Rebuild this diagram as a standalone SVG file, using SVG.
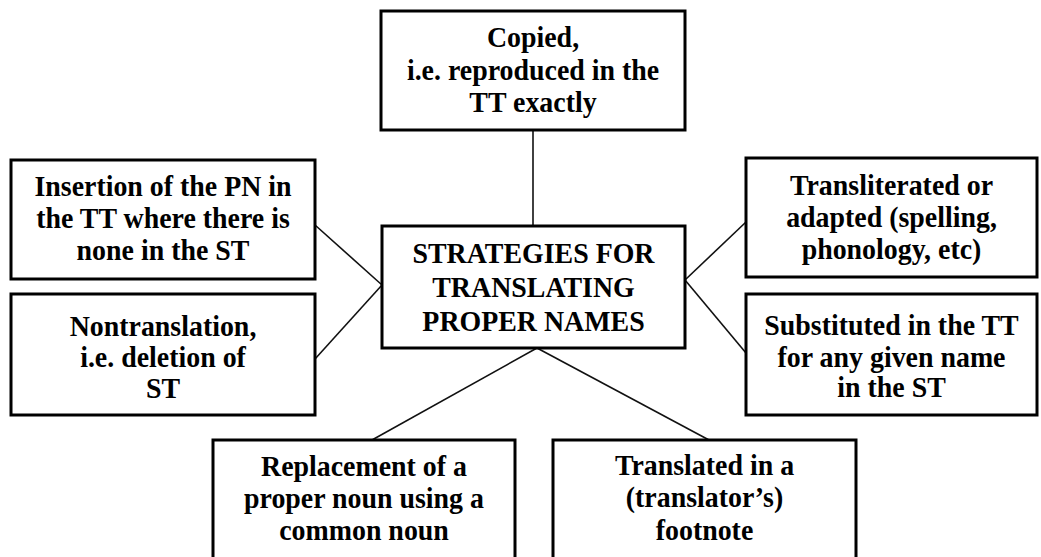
<svg xmlns="http://www.w3.org/2000/svg" width="1041" height="557" viewBox="0 0 1041 557">
<style>
.box{fill:#fff;stroke:#000;stroke-width:3}
.t{font-family:"Liberation Serif","Times New Roman",serif;font-weight:bold;font-size:30px;fill:#000;text-anchor:middle}
.c{stroke:#111;stroke-width:1.6;fill:none}
</style>
<rect x="0" y="0" width="1041" height="557" fill="#fff"/>
<g id="connectors">
<line class="c" x1="533" y1="130" x2="533" y2="226"/>
<line class="c" x1="315" y1="225" x2="382" y2="285"/>
<line class="c" x1="315" y1="359" x2="382" y2="285"/>
<line class="c" x1="685" y1="280" x2="746" y2="222"/>
<line class="c" x1="685" y1="280" x2="746" y2="353"/>
<line class="c" x1="537" y1="348" x2="372" y2="440"/>
<line class="c" x1="537" y1="348" x2="709" y2="440"/>
</g>
<g id="top">
<rect class="box" x="381" y="11" width="304" height="119"/>
<g transform="translate(533 0) scale(0.93 1)">
<text class="t" x="0" y="47">Copied,</text>
<text class="t" x="0" y="80">i.e. reproduced in the</text>
<text class="t" x="0" y="112">TT exactly</text>
</g>
</g>
<g id="center">
<rect class="box" x="382" y="226" width="303" height="122"/>
<g transform="translate(533.5 0) scale(0.93 1)">
<text class="t" x="0" y="263">STRATEGIES FOR</text>
<text class="t" x="0" y="297">TRANSLATING</text>
<text class="t" x="0" y="331">PROPER NAMES</text>
</g>
</g>
<g id="left-top">
<rect class="box" x="11" y="160" width="304" height="119"/>
<g transform="translate(163 0) scale(0.93 1)">
<text class="t" x="0" y="196">Insertion of the PN in</text>
<text class="t" x="0" y="228">the TT where there is</text>
<text class="t" x="0" y="260">none in the ST</text>
</g>
</g>
<g id="left-bottom">
<rect class="box" x="11" y="294" width="304" height="121"/>
<g transform="translate(163 0) scale(0.93 1)">
<text class="t" x="0" y="336">Nontranslation,</text>
<text class="t" x="0" y="367">i.e. deletion of</text>
<text class="t" x="0" y="398">ST</text>
</g>
</g>
<g id="right-top">
<rect class="box" x="746" y="158" width="291" height="119"/>
<g transform="translate(891.5 0) scale(0.93 1)">
<text class="t" x="0" y="195">Transliterated or</text>
<text class="t" x="0" y="227">adapted (spelling,</text>
<text class="t" x="0" y="259">phonology, etc)</text>
</g>
</g>
<g id="right-bottom">
<rect class="box" x="746" y="294" width="291" height="121"/>
<g transform="translate(891.5 0) scale(0.93 1)">
<text class="t" x="0" y="335">Substituted in the TT</text>
<text class="t" x="0" y="367">for any given name</text>
<text class="t" x="0" y="397">in the ST</text>
</g>
</g>
<g id="bottom-left">
<rect class="box" x="213" y="440" width="302" height="125"/>
<g transform="translate(364 0) scale(0.93 1)">
<text class="t" x="0" y="476">Replacement of a</text>
<text class="t" x="0" y="508">proper noun using a</text>
<text class="t" x="0" y="540">common noun</text>
</g>
</g>
<g id="bottom-right">
<rect class="box" x="553" y="440" width="303" height="125"/>
<g transform="translate(704.5 0) scale(0.93 1)">
<text class="t" x="0" y="475">Translated in a</text>
<text class="t" x="0" y="507">(translator’s)</text>
<text class="t" x="0" y="540">footnote</text>
</g>
</g>
</svg>
